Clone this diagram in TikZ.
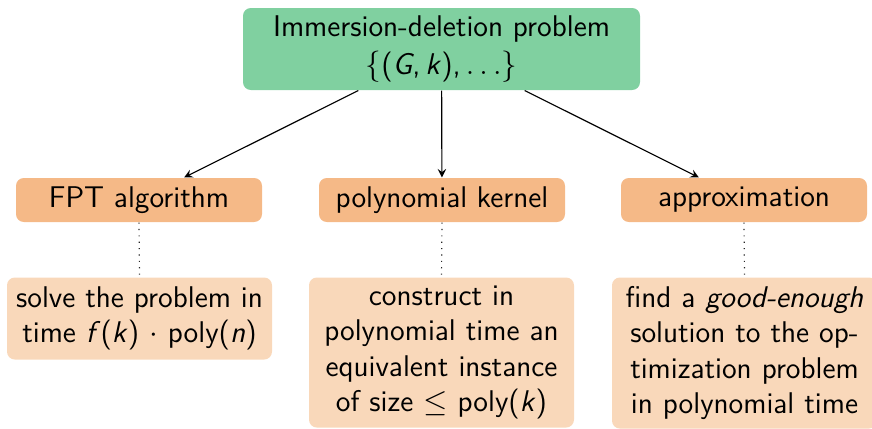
\documentclass[tikz,border=0pt]{standalone}
\usetikzlibrary{arrows}

\definecolor{topgreen}{RGB}{128,208,160}
\definecolor{headorange}{RGB}{245,185,135}
\definecolor{paleorange}{RGB}{249,216,186}

\newcommand{\var}[1]{\textit{#1}}

\begin{document}
\begin{tikzpicture}[x=0.384pt, y=-0.384pt,
  font=\sffamily\fontsize{11.5}{13.5}\selectfont,
  boxbase/.style={rounded corners=3pt, align=center, inner sep=0pt},
  problembox/.style={boxbase, fill=topgreen, minimum width=397*0.384pt, minimum height=82*0.384pt},
  methodbox/.style={boxbase, fill=headorange, minimum width=246*0.384pt, minimum height=44*0.384pt},
  descbox/.style={boxbase, fill=paleorange, anchor=north, minimum width=265*0.384pt, text width=255*0.384pt},
  branch/.style={->, >=stealth, line width=0.45pt},
  link/.style={dotted, line width=0.45pt, black!85}]

  \useasboundingbox (0,0) rectangle (872,428);
  \clip (0,0) rectangle (872,428);

  % root problem
  \node[problembox] (prob) at (441.5,49)
    {Immersion-deletion problem\\[1pt]
     $\{$(\var{G},\,\var{k}),\,$\ldots\}$};

  % three approaches
  \node[methodbox] (fpt)    at (139,200) {FPT algorithm};
  \node[methodbox] (kernel) at (442,200) {polynomial kernel};
  \node[methodbox] (approx) at (744,200) {approximation};

  % descriptions
  \node[descbox, minimum height=82*0.384pt] (fptd) at (139.5,277)
    {solve the problem in\\ time \var{f}(\var{k}) $\cdot$ poly(\var{n})};
  \node[descbox, minimum height=150*0.384pt] (kerneld) at (441.5,277)
    {construct in\\ polynomial time an\\ equivalent instance\\ of size $\leq$ poly(\var{k})};
  \node[descbox, minimum height=151*0.384pt] (approxd) at (744.5,277)
    {find a \textit{good-enough}\\ solution to the op-\\ timization problem\\ in polynomial time};

  % connectors
  \draw[branch] (prob) -- (fpt);
  \draw[branch] (prob) -- (kernel);
  \draw[branch] (prob) -- (approx);

  \draw[link] (fpt.south)    -- (fptd.north);
  \draw[link] (kernel.south) -- (kerneld.north);
  \draw[link] (approx.south) -- (approxd.north);
\end{tikzpicture}
\end{document}
